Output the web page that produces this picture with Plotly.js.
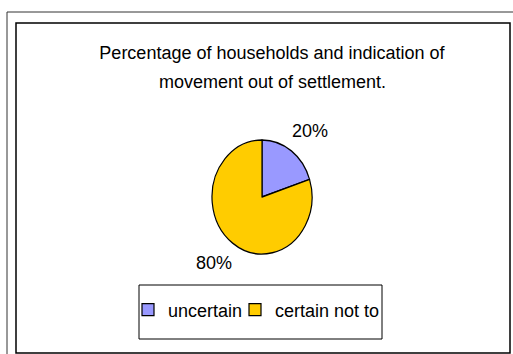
<!DOCTYPE html>
<html>
<head>
<meta charset="utf-8">
<script src="https://cdn.plot.ly/plotly-3.0.1.min.js"></script>
<style>html,body{margin:0;padding:0;background:#fff;}#chart{width:513px;height:354px;}</style>
</head>
<body>
<div id="chart"></div>
<script>
// ---- data ----
const categories = ["uncertain", "certain not to"];
const values = [20, 80];
const colors = ["#9999FF", "#FFCC00"];
const titleLines = ["Percentage of households and indication of", "movement out of settlement."];

// ---- layout constants (pixels) ----
const W = 513, H = 354;
const cx = 262, cy = 197, r = 50, squash = 1.14, labelR = 82;
const FONT = "Liberation Sans, Arial, sans-serif";
const px = x => x / W, py = y => 1 - y / H;

// label annotations computed from the values (clockwise from 12 o'clock)
const total = values.reduce((a, b) => a + b, 0);
let acc = 0;
const labelAnns = values.map(v => {
  const mid = (acc + v / 2) / total * 2 * Math.PI;
  acc += v;
  const lx = cx + labelR * Math.sin(mid);
  const ly = cy - labelR * Math.cos(mid);
  return {
    xref: "paper", yref: "paper", x: px(lx), y: py(ly),
    xanchor: "center", yanchor: "middle", showarrow: false,
    text: Math.round(v / total * 100) + "%",
    font: {family: FONT, size: 18, color: "#000"}
  };
});

const trace = {
  type: "pie",
  labels: categories,
  values: values,
  sort: false,
  direction: "clockwise",
  rotation: 0,
  textinfo: "none",
  hoverinfo: "none",
  marker: {colors: colors, line: {color: "#000", width: 1.2}},
  domain: {x: [px(cx - r), px(cx + r)], y: [py(cy + r), py(cy - r)]}
};

const layout = {
  width: W, height: H,
  margin: {l: 0, r: 0, t: 0, b: 0, pad: 0},
  paper_bgcolor: "#fff",
  font: {family: FONT, color: "#000"},
  title: {
    text: titleLines[0],
    x: px(272), xref: "paper", xanchor: "center",
    y: py(53), yref: "paper", yanchor: "middle",
    font: {family: FONT, size: 18, color: "#000"}
  },
  showlegend: true,
  legend: {
    orientation: "h",
    x: px(128), xanchor: "left",
    y: py(310), yanchor: "middle",
    entrywidth: 62, entrywidthmode: "pixels",
    bgcolor: "rgba(0,0,0,0)", borderwidth: 0,
    font: {family: FONT, size: 18, color: "#000"},
    traceorder: "normal"
  },
  annotations: [
    {xref: "paper", yref: "paper", x: px(272), y: py(82), xanchor: "center", yanchor: "middle",
     showarrow: false, text: titleLines[1], font: {family: FONT, size: 18, color: "#000"}}
  ].concat(labelAnns),
  shapes: [
    {type: "rect", xref: "paper", yref: "paper", x0: px(7), y0: py(12), x1: px(530), y1: py(370),
     line: {color: "#333", width: 1}},
    {type: "rect", xref: "paper", yref: "paper", x0: px(16), y0: py(23), x1: px(510), y1: py(353),
     line: {color: "#000", width: 1.5}},
    {type: "rect", xref: "paper", yref: "paper", x0: px(139), y0: py(285), x1: px(382), y1: py(339),
     line: {color: "#000", width: 1}}
  ]
};

Plotly.newPlot("chart", [trace], layout, {displayModeBar: false, staticPlot: true}).then(gd => {
  const pl = gd.querySelector(".pielayer");
  if (pl) {
    pl.style.transformOrigin = cx + "px " + cy + "px";
    pl.style.transform = "scaleY(" + squash + ")";
  }
  gd.querySelectorAll(".legend [clip-path]").forEach(e => e.removeAttribute("clip-path"));
});
</script>
</body>
</html>
